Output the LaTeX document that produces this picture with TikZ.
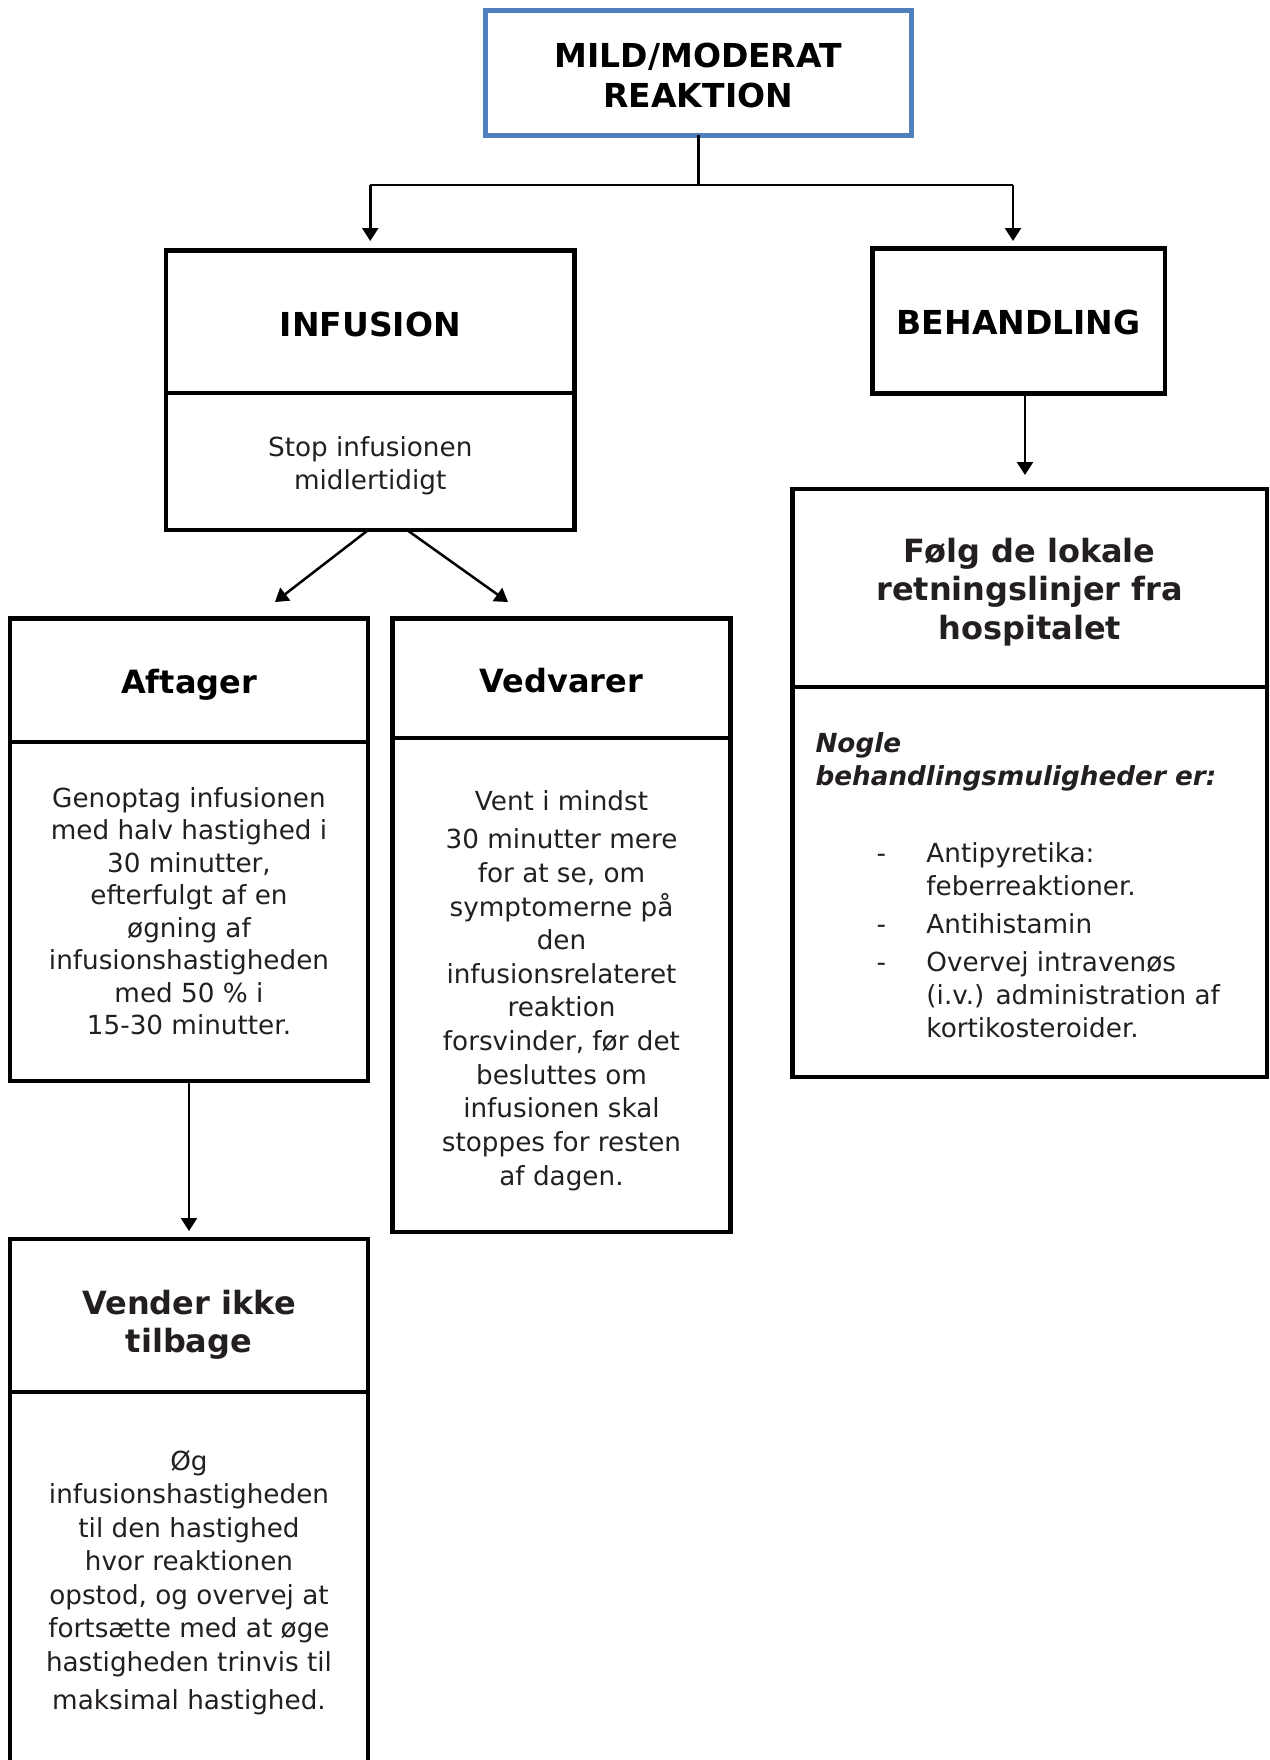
\documentclass[tikz,border=0pt]{standalone}
\usepackage{fontspec}
\setmainfont{DejaVu Sans}
\usetikzlibrary{arrows.meta}
\definecolor{txt}{HTML}{231F20}
\definecolor{blueline}{HTML}{4F81BD}
\begin{document}
\begin{tikzpicture}[x=0.4pt,y=-0.4pt,
  box/.style={draw=black, line width=1.75pt, rectangle, inner sep=0pt, outer sep=0pt},
  lbl/.style={inner sep=0pt, align=center, text=txt},
  bodytxt/.style={font=\fontsize{10.5pt}{13.2pt}\selectfont},
  headtxt/.style={font=\fontsize{12.8pt}{15.4pt}\selectfont\bfseries},
  capstxt/.style={font=\fontsize{13.2pt}{16pt}\selectfont\bfseries, text=black},
  conn/.style={line width=1pt, draw=black},
  arr/.style={conn, -{Triangle[length=5.2pt,width=6.4pt]}}
]
\useasboundingbox (0,0) rectangle (1270,1760);

% boxes
\node[box, draw=blueline, line width=2pt, minimum width=170.6pt, minimum height=50pt] (top) at (698.25,72.5) {};
\node[box, minimum width=163.4pt, minimum height=57.12pt] (infH) at (370.25,321.9) {};
\node[box, minimum width=163.4pt, minimum height=54.68pt] (infB) at (370.25,461.65) {};
\node[box, minimum width=117pt, minimum height=58pt] (behH) at (1018.75,321) {};
\node[box, minimum width=189.8pt, minimum height=79.08pt] (folgH) at (1029.75,587.85) {};
\node[box, minimum width=189.8pt, minimum height=156.12pt] (folgB) at (1029.75,881.85) {};
\node[box, minimum width=143.2pt, minimum height=49.28pt] (aftH) at (189,680.1) {};
\node[box, minimum width=143.2pt, minimum height=135.6pt] (aftB) at (189,911.2) {};
\node[box, minimum width=135.2pt, minimum height=47.8pt] (vedH) at (561.5,678.25) {};
\node[box, minimum width=135.2pt, minimum height=197.48pt] (vedB) at (561.5,984.85) {};
\node[box, minimum width=143.2pt, minimum height=61.2pt] (venH) at (189,1315.5) {};
\node[box, minimum width=143.2pt, minimum height=150.4pt] (venB) at (189,1580) {};

% texts
\node[lbl, capstxt] (topT) at ([yshift=-1.1pt]top.center) {MILD/MODERAT\\REAKTION};
\node[lbl, capstxt] (infHT) at ([yshift=-0.9pt]infH.center) {INFUSION};
\node[lbl, bodytxt] (infBT) at ([yshift=-1.8pt]infB.center) {Stop infusionen\\midlertidigt};
\node[lbl, capstxt] (behHT) at ([yshift=-0.4pt]behH.center) {BEHANDLING};
\node[lbl, headtxt] (folgHT) at ([yshift=-1.6pt]folgH.center) {Følg de lokale\\retningslinjer fra\\hospitalet};
\node[lbl, headtxt, text=black] (aftHT) at ([yshift=-1.8pt]aftH.center) {Aftager};
\node[lbl, bodytxt, font=\fontsize{10.5pt}{13pt}\selectfont] (aftBT) at (aftB.center) {Genoptag infusionen\\med halv hastighed i\\30 minutter,\\efterfulgt af en\\øgning af\\infusionshastigheden\\med 50~\% i\\15-30 minutter.};
\node[lbl, headtxt, text=black] (vedHT) at ([yshift=-0.9pt]vedH.center) {Vedvarer};
\node[lbl, bodytxt, font=\fontsize{10.5pt}{13.45pt}\selectfont] (vedBT) at ([yshift=-2.2pt]vedB.center) {Vent i mindst\\[2pt]30 minutter mere\\for at se, om\\symptomerne på\\den\\infusionsrelateret\\reaktion\\forsvinder, før det\\besluttes om\\infusionen skal\\stoppes for resten\\af dagen.};
\node[lbl, headtxt] (venHT) at ([yshift=-3.8pt]venH.center) {Vender ikke\\tilbage};
\node[lbl, bodytxt, font=\fontsize{10.5pt}{13.4pt}\selectfont] (venBT) at ([yshift=-1.1pt]venB.center) {Øg\\infusionshastigheden\\til den hastighed\\hvor reaktionen\\opstod, og overvej at\\fortsætte med at øge\\hastigheden trinvis til\\[2pt]maksimal hastighed.};

% text in the treatment box
\node[anchor=base west, inner sep=0pt, bodytxt, text=txt] (nogle) at (815,752) {\begin{tabular}[t]{@{}l@{}}\bfseries\itshape Nogle\\\bfseries\itshape behandlingsmuligheder er:\end{tabular}};
\node[anchor=base west, inner sep=0pt, bodytxt, text=txt] (liste) at (876,862) {\begin{tabular}[t]{@{}l@{\hspace{16.2pt}}l@{}}-&Antipyretika:\\ &feberreaktioner.\\[2pt]-&Antihistamin\\[2pt]-&Overvej intravenøs\\ &(i.v.) administration af\\ &kortikosteroider.\end{tabular}};

% connectors
\coordinate (split) at (698.25,185);
\coordinate (jl) at (infH.north |- split);
\coordinate (jr) at (1013,185);
\draw[conn] (top.south) -- (split);
\draw[conn] (jl) -- (jr);
\draw[arr, shorten >=3.8pt] (jl) -- (jl |- infH.north);
\draw[arr, shorten >=3pt] (jr) -- (jr |- behH.north);

\draw[arr] ([xshift=-0.8pt]infB.south) -- ([xshift=34.4pt,yshift=6.6pt]aftH.north);
\draw[arr] ([xshift=14.7pt]infB.south) -- ([xshift=-21.4pt,yshift=6.6pt]vedH.north);

\coordinate (bt) at ([xshift=2.5pt]behH.south);
\draw[arr, shorten >=5.6pt] (bt) -- (bt |- folgH.north);

\draw[arr, shorten >=3.2pt] (aftB.south) -- (venH.north);
\end{tikzpicture}
\end{document}
